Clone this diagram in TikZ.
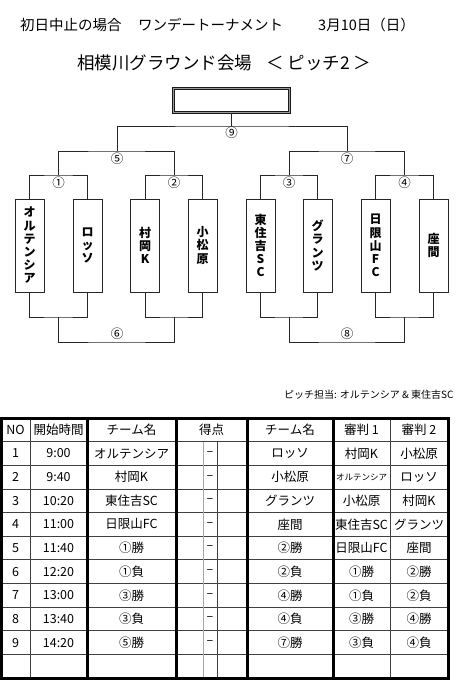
\documentclass[tikz,border=0pt]{standalone}
\usepackage{fontspec}
\newfontfamily\jp{Noto Sans CJK JP}
\begin{document}
\begin{tikzpicture}[x=1pt,y=-1pt,
  every node/.style={font=\jp, inner sep=0pt},
  tbox/.style={draw=black!85, line width=0.9pt, minimum width=29pt, minimum height=93pt, inner sep=0pt, align=center, font=\jp\bfseries\fontsize{12}{13.2}\selectfont},
  br/.style={draw=black!85, line width=0.9pt},
  lbl/.style={font=\jp\fontsize{12.5}{13}\selectfont},
  cell/.style={font=\jp\fontsize{12.5}{13}\selectfont},
  thinln/.style={draw=black!75, line width=0.8pt},
  grayln/.style={draw=black!35, line width=0.8pt},
  thickln/.style={draw=black, line width=3pt}
]
\useasboundingbox (0,0) rectangle (463,700);
\fill[white] (0,0) rectangle (463,700);

% titles
\node[anchor=west, font=\jp\fontsize{14.5}{15}\selectfont] (ti1) at (20,25) {初日中止の場合};
\node[anchor=west, font=\jp\fontsize{14.5}{15}\selectfont] (ti2) at (138,25) {ワンデートーナメント};
\node[anchor=west, font=\jp\fontsize{14.5}{15}\selectfont] (ti3) at (318,25) {3月10日（日）};
\node[anchor=west, font=\jp\fontsize{17.5}{18}\selectfont] (ti4) at (77,63) {相模川グラウンド会場};
\node[anchor=west, font=\jp\fontsize{17.5}{18}\selectfont] (ti5) at (266,63) {＜ ピッチ2 ＞};

% winner box
\node[draw=black!90, double=black!40, double distance=1.2pt, line width=0.8pt, minimum width=116pt, minimum height=24pt] (win) at (231.5,100.5) {};

% team boxes
\node[tbox] (t1) at (29.5,245.5) {オ\\ル\\テ\\ン\\シ\\ア};
\node[tbox] (t2) at (87.5,245.5) {ロ\\ッ\\ソ};
\node[tbox] (t3) at (145,245.5) {村\\岡\\K};
\node[tbox] (t4) at (202.5,245.5) {小\\松\\原};
\node[tbox] (t5) at (260.5,245.5) {東\\住\\吉\\S\\C};
\node[tbox] (t6) at (317.5,245.5) {グ\\ラ\\ン\\ツ};
\node[tbox] (t7) at (375.5,245.5) {日\\限\\山\\F\\C};
\node[tbox] (t8) at (433.5,245.5) {座\\間};

% bracket coordinates
\coordinate (b1) at (58.5,175);
\coordinate (b2) at (174,175);
\coordinate (b3) at (289,175);
\coordinate (b4) at (404.5,175);
\coordinate (b5) at (117,151);
\coordinate (b7) at (347,151);
\coordinate (b9) at (231.5,126);
\coordinate (d1) at (58.5,317);
\coordinate (d2) at (174,317);
\coordinate (d3) at (289,317);
\coordinate (d4) at (404.5,317);
\coordinate (d6) at (117,342);
\coordinate (d8) at (347,342);

\draw[br] (t1.north) |- (b1) -| (t2.north);
\draw[br] (t3.north) |- (b2) -| (t4.north);
\draw[br] (t5.north) |- (b3) -| (t6.north);
\draw[br] (t7.north) |- (b4) -| (t8.north);
\draw[br] (b1) |- (b5) -| (b2);
\draw[br] (b3) |- (b7) -| (b4);
\draw[br] (b5) |- (b9) -| (b7);
\draw[br] (b9) -- (win.south);

\draw[br] (t1.south) |- (d1) -| (t2.south);
\draw[br] (t3.south) |- (d2) -| (t4.south);
\draw[br] (t5.south) |- (d3) -| (t6.south);
\draw[br] (t7.south) |- (d4) -| (t8.south);
\draw[br] (d1) |- (d6) -| (d2);
\draw[br] (d3) |- (d8) -| (d4);

% labels
\node[lbl] (l1) at (58.5,182.5) {①};
\node[lbl] (l2) at (174,182.5) {②};
\node[lbl] (l3) at (289,182.5) {③};
\node[lbl] (l4) at (404.5,182.5) {④};
\node[lbl] (l5) at (117,158.5) {⑤};
\node[lbl] (l7) at (347,158.5) {⑦};
\node[lbl] (l9) at (231.5,133) {⑨};
\node[lbl] (l6) at (117,334) {⑥};
\node[lbl] (l8) at (347,334) {⑧};

% pitch note
\node[anchor=west, font=\jp\fontsize{10}{11}\selectfont] (pitch) at (284,395) {ピッチ担当: オルテンシア \& 東住吉SC};

% table grid
\foreach \k in {1,...,10} \draw[thinln] (1.5,{418+23.636*\k}) -- (448,{418+23.636*\k});
\draw[thinln] (30,418) -- (30,678);
\draw[thinln] (390,418) -- (390,678);
\draw[grayln] (203,441.6) -- (203,678);
\draw[thinln] (217,441.6) -- (217,678);
\foreach \xx in {87,176,247,333} \draw[thickln] (\xx,418) -- (\xx,678);
\draw[thickln] (1.5,418) rectangle (448,678);

% header
\node[cell] (h1) at (15.5,429.8) {NO};
\node[cell] (h2) at (58.5,429.8) {開始時間};
\node[cell] (h3) at (131.5,429.8) {チーム名};
\node[cell] (h4) at (211.5,429.8) {得点};
\node[cell] (h5) at (290,429.8) {チーム名};
\node[cell] (h6) at (361.5,429.8) {審判 1};
\node[cell] (h7) at (419,429.8) {審判 2};

% rows
\foreach \n/\t/\a/\b/\c/\d [count=\i] in {
  1/9:00/オルテンシア/ロッソ/村岡K/小松原,
  2/9:40/村岡K/小松原/{\fontsize{8.5}{9}\selectfont オルテンシア}/ロッソ,
  3/10:20/東住吉SC/グランツ/小松原/村岡K,
  4/11:00/日限山FC/座間/東住吉SC/グランツ,
  5/11:40/①勝/②勝/日限山FC/座間,
  6/12:20/①負/②負/①勝/②勝,
  7/13:00/③勝/④勝/①負/②負,
  8/13:40/③負/④負/③勝/④勝,
  9/14:20/⑤勝/⑦勝/③負/④負}{
  \pgfmathsetmacro\yy{418+23.636*(\i+0.5)}
  \node[cell] (no\i) at (15.5,\yy) {\n};
  \node[cell] (tm\i) at (58.5,\yy) {\t};
  \node[cell] (ta\i) at (131.5,\yy) {\a};
  \node[cell] (sc\i) at (210,\yy) {–};
  \node[cell] (tb\i) at (290,\yy) {\b};
  \node[cell] (ra\i) at (361.5,\yy) {\c};
  \node[cell] (rb\i) at (419,\yy) {\d};
}
\end{tikzpicture}
\end{document}
